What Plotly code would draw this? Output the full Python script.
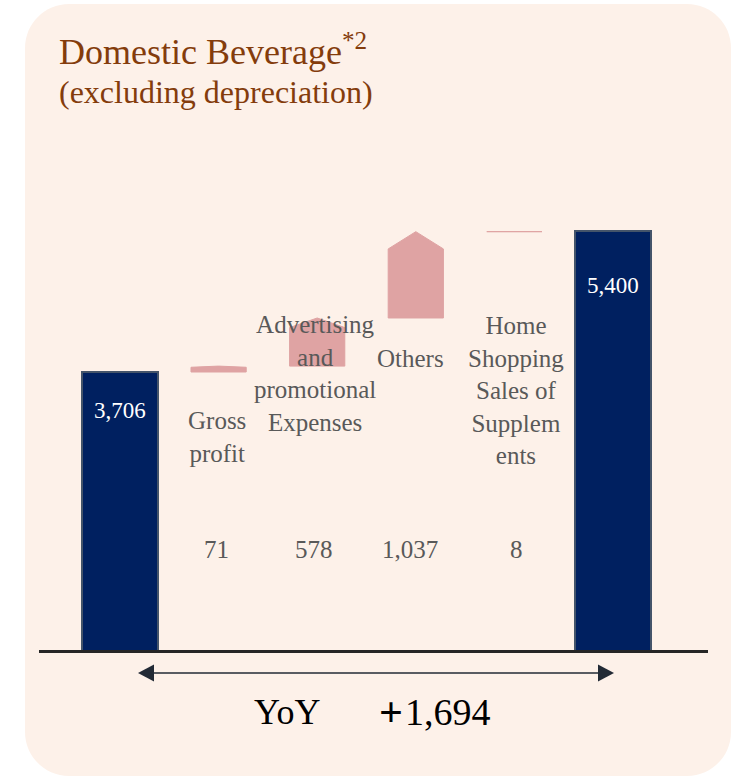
import plotly.graph_objects as go

# ---------------- data ----------------
categories = ["Previous", "Gross profit", "Advertising and promotional Expenses",
              "Others", "Home Shopping Sales of Supplements", "Current"]
label_lines = [None, "Gross<br>profit", "Advertising<br>and<br>promotional<br>Expenses",
               "Others", "Home<br>Shopping<br>Sales of<br>Supplem<br>ents", None]
start_value = 3706
end_value = 5400
deltas = [71, 578, 1037, 8]
delta_labels = ["71", "578", "1,037", "8"]
total_labels = ["3,706", "5,400"]
yoy_label = "1,694"

# ---------------- geometry helpers (pixels -> paper) ----------------
W, H = 731, 776
ML, MR, MT, MB = 39, 23, 0, 126
PW, PH = W - ML - MR, H - MT - MB


def px(x):
    return (x - ML) / PW


def py(y):
    return (H - MB - y) / PH


NAVY = "#002060"
PINK = "#DFA3A3"
GRAY = "#595959"
BROWN = "#843C0C"
FONT = "Liberation Serif, Times New Roman, serif"

fig = go.Figure()

# totals
fig.add_trace(go.Bar(
    x=[0, 5], y=[start_value, end_value], width=0.77,
    marker=dict(color=NAVY, line=dict(color="#44546A", width=2)),
    hoverinfo="skip", showlegend=False))

# deltas as arrow-shaped (pentagon) polygons
w = 0.56
base = start_value
for i, d in enumerate(deltas, start=1):
    top = base + d
    tip = 0.2 * d
    xs = [i - w / 2, i + w / 2, i + w / 2, i, i - w / 2, i - w / 2]
    ys = [base, base, top - tip, top, top - tip, base]
    fig.add_trace(go.Scatter(x=xs, y=ys, mode="lines", fill="toself",
                             fillcolor=PINK, line=dict(color=PINK, width=1),
                             hoverinfo="skip", showlegend=False))
    base = top

annotations = []
# category labels
label_pos = {1: (217, 437), 2: (315, 373), 3: (410, 358), 4: (516, 390)}
for i, (lx, ly) in label_pos.items():
    annotations.append(dict(x=px(lx), y=py(ly), xref="paper", yref="paper",
                            text=label_lines[i], showarrow=False,
                            font=dict(family=FONT, size=25, color=GRAY),
                            xanchor="center", yanchor="middle"))
# delta value labels
for i, (t, lx) in enumerate(zip(delta_labels, [216, 314, 410, 516]), start=1):
    annotations.append(dict(x=px(lx), y=py(549), xref="paper", yref="paper",
                            text=t, showarrow=False,
                            font=dict(family=FONT, size=25, color=GRAY),
                            xanchor="center", yanchor="middle"))
# total labels
for t, lx, ly in zip(total_labels, [120, 613], [411, 285]):
    annotations.append(dict(x=px(lx), y=py(ly), xref="paper", yref="paper",
                            text=t, showarrow=False,
                            font=dict(family=FONT, size=23, color="white"),
                            xanchor="center", yanchor="middle"))
# title
annotations.append(dict(x=px(57), y=py(50), xref="paper", yref="paper",
                        text="Domestic Beverage<sup>*2</sup>", showarrow=False,
                        font=dict(family=FONT, size=36, color=BROWN),
                        xanchor="left", yanchor="middle"))
annotations.append(dict(x=px(57), y=py(92), xref="paper", yref="paper",
                        text="(excluding depreciation)", showarrow=False,
                        font=dict(family=FONT, size=32, color=BROWN),
                        xanchor="left", yanchor="middle"))
# YoY
annotations.append(dict(x=px(287), y=py(712), xref="paper", yref="paper",
                        text="YoY", showarrow=False,
                        font=dict(family=FONT, size=36, color="black"),
                        xanchor="center", yanchor="middle"))
annotations.append(dict(x=px(377), y=py(712), xref="paper", yref="paper",
                        text="<span style='font-size:42px'><b>+</b></span>",
                        showarrow=False,
                        font=dict(family=FONT, size=36, color="black"),
                        xanchor="left", yanchor="middle"))
annotations.append(dict(x=px(493), y=py(712), xref="paper", yref="paper",
                        text=yoy_label, showarrow=False,
                        font=dict(family=FONT, size=38, color="black"),
                        xanchor="right", yanchor="middle"))

# ---------------- shapes ----------------
shapes = []


def rounded_rect(x0, y0, x1, y1, r):
    k = 0.5523 * r
    path = (f"M {px(x0 + r)},{py(y0)} L {px(x1 - r)},{py(y0)} "
            f"C {px(x1 - r + k)},{py(y0)} {px(x1)},{py(y0 + r - k)} {px(x1)},{py(y0 + r)} "
            f"L {px(x1)},{py(y1 - r)} "
            f"C {px(x1)},{py(y1 - r + k)} {px(x1 - r + k)},{py(y1)} {px(x1 - r)},{py(y1)} "
            f"L {px(x0 + r)},{py(y1)} "
            f"C {px(x0 + r - k)},{py(y1)} {px(x0)},{py(y1 - r + k)} {px(x0)},{py(y1 - r)} "
            f"L {px(x0)},{py(y0 + r)} "
            f"C {px(x0)},{py(y0 + r - k)} {px(x0 + r - k)},{py(y0)} {px(x0 + r)},{py(y0)} Z")
    return path


shapes.append(dict(type="path", path=rounded_rect(25, 4, 731, 776, 44),
                   xref="paper", yref="paper", fillcolor="#FDF1E9",
                   line=dict(width=0), layer="below"))

# YoY arrow
ay = 673
ARW = "#222A35"
shapes.append(dict(type="line", x0=px(150), x1=px(601), y0=py(ay), y1=py(ay),
                   xref="paper", yref="paper", line=dict(color=ARW, width=1.5)))
shapes.append(dict(type="path",
                   path=f"M {px(138)},{py(ay)} L {px(154)},{py(ay - 8.5)} L {px(154)},{py(ay + 8.5)} Z",
                   xref="paper", yref="paper", fillcolor=ARW, line=dict(width=0)))
shapes.append(dict(type="path",
                   path=f"M {px(614)},{py(ay)} L {px(598)},{py(ay - 8.5)} L {px(598)},{py(ay + 8.5)} Z",
                   xref="paper", yref="paper", fillcolor=ARW, line=dict(width=0)))

# y scale: value v at pixel 680.5 - 0.08324 * v
y_lo = (680.5 - (H - MB)) / 0.08324
y_hi = 680.5 / 0.08324
x_lo = (ML - 120) / 98.6
x_hi = (W - MR - 120) / 98.6

fig.update_layout(
    width=W, height=H,
    margin=dict(l=ML, r=MR, t=MT, b=MB, pad=0, autoexpand=False),
    paper_bgcolor="white", plot_bgcolor="rgba(0,0,0,0)",
    xaxis=dict(range=[x_lo, x_hi], showline=True, linecolor="#262626", linewidth=3,
               showticklabels=False, showgrid=False, zeroline=False, ticks=""),
    yaxis=dict(range=[y_lo, y_hi], visible=False, showgrid=False, zeroline=False),
    annotations=annotations, shapes=shapes, showlegend=False,
    bargap=0,
)

fig.write_html("out.html")
